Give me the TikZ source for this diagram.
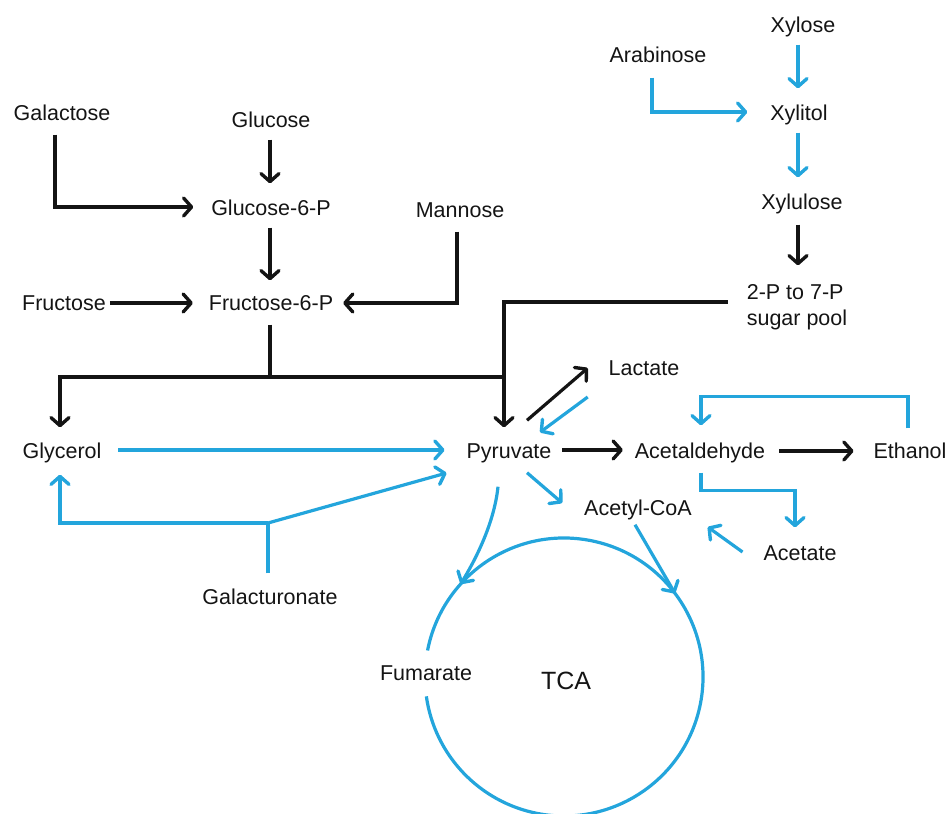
\documentclass[tikz,border=0pt]{standalone}
\usepackage{fontspec}
\setmainfont{Liberation Sans}
\usetikzlibrary{arrows.meta,calc}
\definecolor{pathblue}{RGB}{35,165,220}
\definecolor{pathblack}{RGB}{20,20,20}
\tikzset{
  lbl/.style={inner sep=0pt, outer sep=0pt, text height=15.4pt, text depth=0pt, font=\fontsize{21.5}{26}\selectfont, text=pathblack},
  tip/.style={-{Straight Barb[length=8pt,width=18pt,line width=3.4pt,round]}},
  blk/.style={draw=pathblack, line width=3.2pt},
  blu/.style={draw=pathblue, line width=3.2pt},
}
\begin{document}
\begin{tikzpicture}[x=1pt,y=-1pt]
\useasboundingbox (0,0) rectangle (951,814);
% nodes
\node[lbl] (galactose) at (62,113) {Galactose};
\node[lbl] (glucose) at (271,120) {Glucose};
\node[lbl] (g6p) at (271,208) {Glucose-6-P};
\node[lbl] (mannose) at (460,210) {Mannose};
\node[lbl] (fructose) at (64,303) {Fructose};
\node[lbl] (f6p) at (271,303) {Fructose-6-P};
\node[lbl] (arabinose) at (658,55) {Arabinose};
\node[lbl] (xylose) at (803,25) {Xylose};
\node[lbl] (xylitol) at (799,113) {Xylitol};
\node[lbl] (xylulose) at (802,202) {Xylulose};
\node[lbl, align=left, text height=, text depth=] (pool) at (797,307) {2-P to 7-P\\sugar pool};
\node[lbl] (lactate) at (644,368) {Lactate};
\node[lbl] (glycerol) at (62,451) {Glycerol};
\node[lbl] (pyruvate) at (509,451) {Pyruvate};
\node[lbl] (acetaldehyde) at (700,451) {Acetaldehyde};
\node[lbl] (ethanol) at (910,451) {Ethanol};
\node[lbl] (acetylcoa) at (638,508) {Acetyl-CoA};
\node[lbl] (acetate) at (800,553) {Acetate};
\node[lbl] (galacturonate) at (270,597) {Galacturonate};
\node[lbl] (fumarate) at (426,673) {Fumarate};
\node[lbl, font=\fontsize{25}{30}\selectfont, text height=18pt] (tca) at (566,680) {TCA};
% junctions
\coordinate (cc) at (564,677);
\coordinate (jf) at (270,377);
\coordinate (jr) at (504,377);
\coordinate (jg) at (268,523);
\coordinate (cL) at ($(cc)+(222:139)$);
\coordinate (cR) at ($(cc)+(323:139)$);
% black connectors
\draw[blk,tip] ($(galactose.south)+(-7,14)$) |- ($(g6p.west)+(-18,-1)$);
\draw[blk,tip] ($(glucose.south)+(-1,12)$) -- ($(g6p.north)+(-1,-17)$);
\draw[blk,tip] ($(g6p.south)+(-1,12)$) -- ($(f6p.north)+(-1,-15)$);
\draw[blk,tip] ($(fructose.east)+(4,0)$) -- ($(f6p.west)+(-16,0)$);
\draw[blk,tip] ($(mannose.south)+(-3,14)$) |- ($(f6p.east)+(10,0)$);
\draw[blk] ($(f6p.south)+(-1,14)$) -- (jf);
\draw[blk,tip] (jf) -| ($(glycerol.north)+(-2,-16)$);
\draw[blk] (jf) -- (jr);
\draw[blk,tip] ($(pool.west)+(-19,-5)$) -| ($(pyruvate.north)+(-5,-16)$);
\draw[blk,tip] ($(xylulose.south)+(-4,15)$) -- ($(pool.north)+(1,-19)$);
\draw[blk,tip] ($(pyruvate.north)+(18,-23)$) -- ($(lactate.west)+(-21,0)$);
\draw[blk,tip] ($(pyruvate.east)+(11,-1)$) -- ($(acetaldehyde.west)+(-12,-1)$);
\draw[blk,tip] ($(acetaldehyde.east)+(14,0)$) -- ($(ethanol.west)+(-20,0)$);
% blue connectors
\draw[blu,tip] ($(xylose.south)+(-5,12)$) -- ($(xylitol.north)+(-1,-17)$);
\draw[blu,tip] ($(arabinose.south)+(-6,15)$) |- ($(xylitol.west)+(-23,-1)$);
\draw[blu,tip] ($(xylitol.south)+(-1,12)$) -- ($(xylulose.north)+(-4,-17)$);
\draw[blu,tip] ($(lactate.west)+(-21,29)$) -- ($(pyruvate.north)+(31,-11)$);
\draw[blu,tip] ($(glycerol.east)+(17,-1)$) -- ($(pyruvate.west)+(-22,-1)$);
\draw[blu] ($(galacturonate.north)+(-2,-16)$) -- (jg);
\draw[blu,tip] (jg) -| ($(glycerol.south)+(-2,16)$);
\draw[blu,tip] (jg) -- ($(pyruvate.west)+(-20,22)$);
\draw[blu,tip] ($(ethanol.north)+(-2,-15)$) -- ++(0,-32) -| ($(acetaldehyde.north)+(1,-18)$);
\draw[blu,tip] ($(acetaldehyde.south)+(1,14)$) -- ++(0,18) -| ($(acetate.north)+(-5,-18)$);
\draw[blu,tip] ($(acetate.west)+(-21,-1)$) -- ($(acetylcoa.east)+(16,19)$);
\draw[blu,tip] ($(pyruvate.south)+(18,14)$) -- ($(acetylcoa.west)+(-22,-5)$);
\draw[blu,tip] ($(pyruvate.south)+(-11,28)$) .. controls (494,525) and (474,562) .. (cL);
\draw[blu,tip] ($(acetylcoa.south)+(-3,9)$) -- (cR);
% TCA cycle
\draw[blu] ($(cc)+(191:139)$) arc[start angle=191, end angle=532, radius=139];
\end{tikzpicture}
\end{document}
